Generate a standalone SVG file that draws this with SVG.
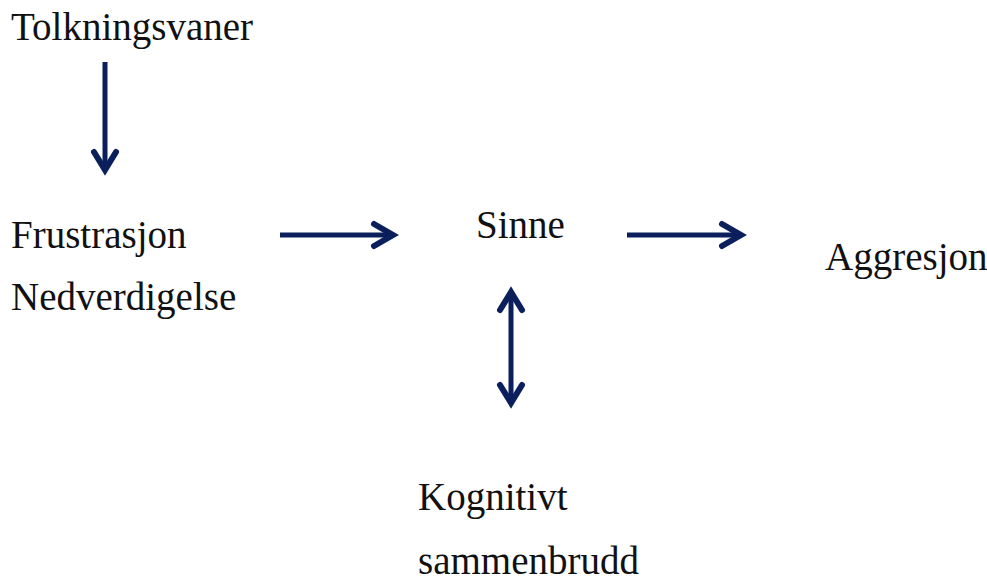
<svg xmlns="http://www.w3.org/2000/svg" width="987" height="583" viewBox="0 0 987 583">
<style>
text{font-family:"Liberation Serif","Times New Roman",serif;font-size:39px;fill:#111}
.c{stroke:#0b1f5c;stroke-width:5;fill:none;stroke-linecap:butt}
.h{stroke:#0b1f5c;stroke-width:6;fill:none;stroke-linejoin:miter;stroke-linecap:round}
</style>
<rect width="987" height="583" fill="#fff"/>
<g id="tolkningsvaner"><text x="11" y="40">Tolkningsvaner</text></g>
<g id="frustrasjon"><text x="11" y="248">Frustrasjon</text><text x="11" y="310">Nedverdigelse</text></g>
<g id="sinne"><text x="476" y="238">Sinne</text></g>
<g id="aggresjon"><text x="825" y="270">Aggresjon</text></g>
<g id="kognitivt"><text x="418" y="510">Kognitivt</text><text x="418" y="574">sammenbrudd</text></g>
<g id="connectors">
<line class="c" x1="105" y1="62" x2="105" y2="168"/>
<polyline class="h" points="94,152 105,170 116,152"/>
<line class="c" x1="280" y1="235" x2="391" y2="235"/>
<polyline class="h" points="374,224 393,235 374,246"/>
<line class="c" x1="627" y1="235" x2="739" y2="235"/>
<polyline class="h" points="722,224 741,235 722,246"/>
<line class="c" x1="511" y1="294" x2="511" y2="401"/>
<polyline class="h" points="500,310 511,292 522,310"/>
<polyline class="h" points="500,385 511,403 522,385"/>
</g>
</svg>
